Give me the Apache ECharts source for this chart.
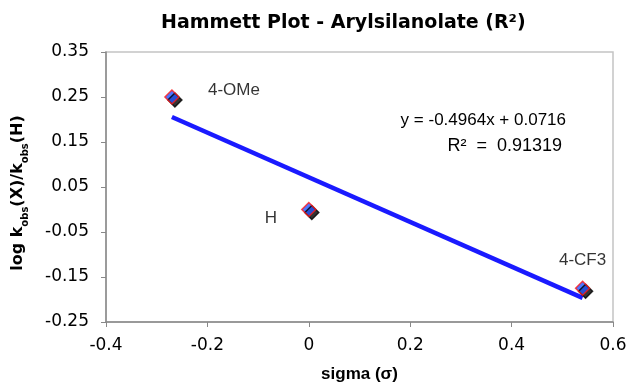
<!DOCTYPE html>
<html>
<head>
<meta charset="utf-8">
<script src="https://cdn.jsdelivr.net/npm/echarts@6/dist/echarts.min.js"></script>
<style>
  html, body { margin: 0; padding: 0; background: #fff; }
  #chart { width: 630px; height: 382px; }
</style>
</head>
<body>
<div id="chart"></div>
<script>
// substituents and their Hammett values
var labels = ['4-OMe', 'H', '4-CF3']
var sigma = [-0.27, 0, 0.54]
var logRatio = [0.25, 0.0, -0.175]

// linear fit shown on the chart
var slope = -0.4964
var intercept = 0.0716
var r2 = 0.91319
var fitX = [-0.27, 0.54]

var chart = echarts.init(document.getElementById('chart'))

var points = sigma.map(function (s, i) {
  return { value: [s, logRatio[i]], name: labels[i] }
})
var fitLine = fitX.map(function (x) {
  return [x, slope * x + intercept]
})

// label offsets per point
var labelOffsets = [[62, -7], [-38, 9], [0, -28]]
points.forEach(function (p, i) {
  p.label = { offset: labelOffsets[i] }
})

chart.setOption({
  animation: false,
  title: {
    text: 'Hammett Plot - Arylsilanolate (R²)',
    left: 156,
    top: 9,
    textStyle: {
      fontFamily: 'DejaVu Sans',
      fontWeight: 'bold',
      fontSize: 19,
      color: '#000'
    }
  },
  grid: {
    left: 106,
    top: 52,
    right: 17,
    bottom: 60,
    outerBoundsMode: 'none',
    containLabel: false,
    show: true,
    borderColor: '#c4c4c4',
    borderWidth: 1.5
  },
  xAxis: {
    type: 'value',
    min: -0.4,
    max: 0.6,
    interval: 0.2,
    name: 'sigma (σ)',
    nameLocation: 'middle',
    nameGap: 44,
    nameTextStyle: {
      fontFamily: 'Liberation Sans',
      fontWeight: 'bold',
      fontSize: 17,
      color: '#000'
    },
    axisLine: { onZero: false, lineStyle: { color: '#888', width: 1.5 } },
    axisTick: { show: true, length: 5, lineStyle: { color: '#888' } },
    axisLabel: {
      fontFamily: 'DejaVu Sans',
      fontSize: 17,
      color: '#000',
      margin: 15,
      formatter: function (v) { return String(Math.round(v * 10) / 10) }
    },
    splitLine: { show: false }
  },
  yAxis: {
    type: 'value',
    min: -0.25,
    max: 0.35,
    interval: 0.1,
    name: '{n|log k}{s|obs}{n|(X)/k}{s|obs}{n|(H)}',
    nameLocation: 'middle',
    nameGap: 80,
    nameTextStyle: {
      padding: [0, 12, 0, 0],
      rich: {
        n: {
          fontFamily: 'DejaVu Sans',
          fontWeight: 'bold',
          fontSize: 16,
          color: '#000',
          verticalAlign: 'bottom',
          lineHeight: 19
        },
        s: {
          fontFamily: 'DejaVu Sans',
          fontWeight: 'bold',
          fontSize: 10,
          color: '#000',
          verticalAlign: 'bottom',
          lineHeight: 12,
          padding: [0, 0, -4, 0]
        }
      }
    },
    axisLine: { show: true, onZero: false, lineStyle: { color: '#888', width: 1.5 } },
    axisTick: { show: true, length: 5, lineStyle: { color: '#888' } },
    axisLabel: {
      fontFamily: 'DejaVu Sans',
      fontSize: 17,
      color: '#000',
      margin: 17,
      formatter: function (v) { return v.toFixed(2) }
    },
    splitLine: { show: false }
  },
  series: [
    {
      type: 'line',
      data: fitLine,
      symbol: 'none',
      lineStyle: { color: '#1a1aff', width: 4.5 },
      z: 2
    },
    {
      type: 'scatter',
      data: points,
      symbol: 'diamond',
      symbolSize: 14,
      itemStyle: {
        color: '#2255ff',
        borderColor: '#ff1a1a',
        borderWidth: 1.5,
        shadowColor: '#000',
        shadowBlur: 0,
        shadowOffsetX: 3,
        shadowOffsetY: 3
      },
      label: {
        show: true,
        formatter: '{b}',
        fontFamily: 'Liberation Sans',
        fontSize: 17,
        color: '#000'
      },
      z: 3
    }
  ],
  graphic: [
    {
      type: 'text',
      right: 64,
      top: 112,
      style: {
        text: 'y = ' + slope + 'x + ' + intercept,
        font: '17px "Liberation Sans"',
        fill: '#000'
      }
    },
    {
      type: 'text',
      right: 68,
      top: 137,
      style: {
        text: 'R²  =  ' + r2,
        font: '18px "Liberation Sans"',
        fill: '#000'
      }
    }
  ]
})
</script>
</body>
</html>
